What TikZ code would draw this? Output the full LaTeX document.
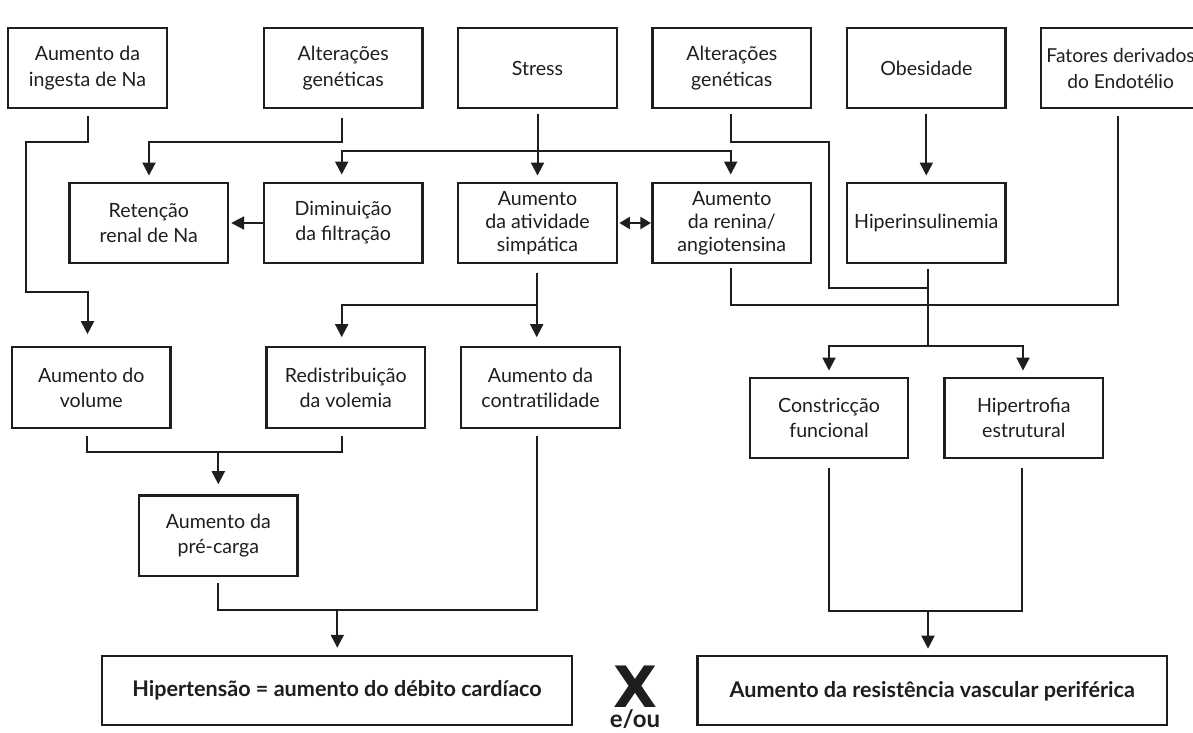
\documentclass[tikz,border=0pt]{standalone}
\usepackage{fontspec}
\setmainfont{Lato}
\newfontfamily\xfont{DejaVu Sans}
\usetikzlibrary{arrows.meta,calc}
\definecolor{ink}{HTML}{1E1E1E}
\begin{document}
\begin{tikzpicture}[x=1pt,y=-1pt,
  bx/.style={draw=ink, text=ink, line width=2.3pt, align=center, inner sep=0pt,
    minimum width=158.5pt, minimum height=80.5pt, font=\fontsize{19.6}{25}\selectfont},
  topbox/.style={bx, minimum height=80pt, font=\fontsize{19.6}{26.5}\selectfont},
  threeline/.style={font=\fontsize{19.6}{23}\selectfont},
  bigbox/.style={bx, minimum width=469.4pt, minimum height=69pt, font=\bfseries\fontsize{21.6}{25}\selectfont},
  ln/.style={draw=ink, line width=2pt},
  ar/.style={ln, -{Triangle[length=13pt,width=13pt]}},
  arr/.style={ln, {Triangle[length=13pt,width=13pt]}-{Triangle[length=13pt,width=13pt]}},
  dbl/.style={ln, {Triangle[length=10.5pt,width=12pt]}-{Triangle[length=10.5pt,width=12pt]}}
]
\useasboundingbox (0,0) rectangle (1193,732);
\fill[white] (0,0) rectangle (1193,732);
\clip (0,0) rectangle (1193,732);

% top row
\node[topbox] (b1) at (87.5,68.3) {Aumento da\\ingesta de Na};
\node[topbox] (b2) at (343.2,68.3) {Alterações\\genéticas};
\node[topbox] (b3) at (537.5,68.3) {Stress};
\node[topbox] (b4) at (731.8,68.3) {Alterações\\genéticas};
\node[topbox] (b5) at (926.3,68.3) {Obesidade};
\node[topbox, minimum width=159pt, font=\fontsize{19.2}{26.5}\selectfont] (b6) at (1120.6,68.3) {Fatores derivados\\do Endotélio};

% second row
\node[bx, minimum height=80.6pt] (r1) at (148.8,223) {Retenção\\renal de Na};
\node[bx, minimum height=80.6pt] (r2) at (343.2,223) {Diminuição\\da filtração};
\node[bx, minimum height=80.6pt, threeline] (r3) at (537.5,223) {Aumento\\da atividade\\simpática};
\node[bx, minimum height=80.6pt, threeline] (r4) at (731.8,223) {Aumento\\da renina/\\angiotensina};
\node[bx, minimum height=80.6pt] (r5) at (926.3,223) {Hiperinsulinemia};

% third row
\node[bx, minimum height=81pt] (v1) at (91.3,387.8) {Aumento do\\volume};
\node[bx, minimum height=81pt] (v2) at (345.8,387.8) {Redistribuição\\da volemia};
\node[bx, minimum height=81pt] (v3) at (540.5,387.8) {Aumento da\\contratilidade};
\node[bx, minimum height=80.7pt] (pre) at (218.3,535.7) {Aumento da\\pré-carga};
\node[bx, minimum height=80.6pt] (c1) at (829,418) {Constricção\\funcional};
\node[bx, minimum height=80.6pt] (c2) at (1023.8,418) {Hipertrofia\\estrutural};

% bottom
\node[bigbox] (hip) at (337,690.7) {Hipertensão = aumento do débito cardíaco};
\node[bigbox] (res) at (932.3,690.8) {Aumento da resistência vascular periférica};
\node[text=ink, inner sep=0pt, anchor=north] (xx) at (635,665.5) {\vbox{\baselineskip=0pt\lineskip=2.5pt\lineskiplimit=0pt
  \halign{\hfil#\hfil\cr
  \xfont\bfseries\fontsize{57}{57}\selectfont X\cr
  \bfseries\fontsize{24}{24}\selectfont e/ou\cr}}};

% coordinates
\coordinate (a1) at (87.5,141.7);
\coordinate (a2) at (26,141.7);
\coordinate (a3) at (26,291.7);
\coordinate (a4) at (87.5,291.7);
\coordinate (e1) at (341.7,141.7);
\coordinate (e2) at (149,141.7);
\coordinate (d1) at (341.7,150.7);
\coordinate (d2) at (730.7,150.7);
\coordinate (g1) at (730.7,141.7);
\coordinate (g2) at (829,141.7);
\coordinate (g3) at (829,288.3);
\coordinate (g4) at (928,288.3);
\coordinate (i1) at (928,346);
\coordinate (j1) at (730.7,305);
\coordinate (j2) at (1118,305);
\coordinate (k1) at (829,346);
\coordinate (k2) at (1023,346);
\coordinate (l1) at (829,610.7);
\coordinate (l2) at (1022.3,610.7);
\coordinate (l3) at (928,610.7);
\coordinate (m1) at (536.7,305);
\coordinate (m2) at (341.7,305);
\coordinate (n1) at (87.3,451.7);
\coordinate (n2) at (341.7,451.7);
\coordinate (n3) at (218.3,451.7);
\coordinate (o1) at (218.3,610.3);
\coordinate (o2) at (536.7,610.3);
\coordinate (o3) at (337.3,610.3);

% connectors
\draw[ar, shorten <=7pt, shorten >=12pt] (b1.south) -- (a1) -- (a2) -- (a3) -- (a4) -- (a4 |- v1.north);
\draw[ar, shorten <=9pt, shorten >=6pt] (e1 |- b2.south) -- (e1) -- (e2) -- (e2 |- r1.north);
\draw[ar, shorten <=5pt, shorten >=6pt] (b3.south) -- (r3.north);
\draw[arr, shorten <=7pt, shorten >=7pt] (d1 |- r2.north) -- (d1) -- (d2) -- (d2 |- r4.north);
\draw[ar, shorten >=2pt] (r2.west) -- (r1.east);
\draw[dbl, shorten <=1.5pt, shorten >=0.5pt] (r3.east) -- (r4.west);
\draw[ln, shorten <=4.5pt] (g1 |- b4.south) -- (g1) -- (g2) -- (g3) -- (g4);
\draw[ar, shorten <=5pt, shorten >=6pt] (b5.south) -- (r5.north);
\draw[ln, shorten <=5pt] (i1 |- r5.south) -- (i1);
\draw[ln, shorten <=3.4pt, shorten >=6.7pt] (j1 |- r4.south) -- (j1) -- (j2) -- (j2 |- b6.south);
\draw[arr, shorten <=6pt, shorten >=6pt] (k1 |- c1.north) -- (k1) -- (k2) -- (k2 |- c2.north);
\draw[ln, shorten <=8.4pt, shorten >=8.4pt] (l1 |- c1.south) -- (l1) -- (l2) -- (l2 |- c2.south);
\draw[ar, shorten >=6.5pt] (l3) -- (l3 |- res.north);
\draw[ar, shorten <=8.4pt, shorten >=9pt] (m1 |- r3.south) -- (m1 |- v3.north);
\draw[ar, shorten >=9pt] (m1) -- (m2) -- (m2 |- v2.north);
\draw[ln, shorten <=6.7pt, shorten >=6.7pt] (n1 |- v1.south) -- (n1) -- (n2) -- (n2 |- v2.south);
\draw[ar, shorten >=10pt] (n3) -- (n3 |- pre.north);
\draw[ln, shorten <=6pt, shorten >=6.7pt] (o1 |- pre.south) -- (o1) -- (o2) -- (o2 |- v3.south);
\draw[ar, shorten >=7.3pt] (o3) -- (o3 |- hip.north);
\end{tikzpicture}
\end{document}
